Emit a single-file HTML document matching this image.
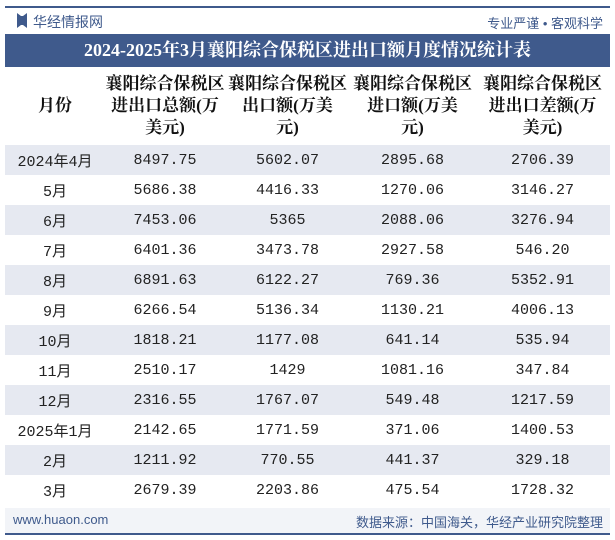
<!DOCTYPE html>
<html><head><meta charset="utf-8"><style>
body{margin:0;width:615px;height:540px;background:#fff;position:relative;overflow:hidden;font-family:"Liberation Sans","Noto Sans CJK SC",sans-serif}
.abs{position:absolute}
table{position:absolute;left:5px;top:67px;width:605px;border-collapse:collapse;table-layout:fixed}
th{font-family:"Liberation Serif","Noto Serif CJK SC",serif;font-weight:bold;font-size:17px;line-height:22px;height:78px;padding:0;color:#111;white-space:nowrap}
td{height:30px;padding:0;text-align:center;font-size:15px;color:#222;font-family:"Liberation Mono","Noto Sans CJK SC",monospace}
tr.s td{background:#e6e9f1}
</style></head><body>
<div class="abs" style="left:5px;top:6px;width:605px;height:2px;background:#3f5a8c"></div>
<div class="abs" style="left:17px;top:13px;width:10px;height:15px;background:#3f5a8c;clip-path:polygon(0 0,40% 20%,60% 20%,100% 0,100% 100%,60% 80%,40% 80%,0 100%)"></div>
<div class="abs" style="left:33px;top:12px;font-size:14px;color:#3f5a8c">华经情报网</div>
<div class="abs" style="right:12px;top:13px;font-size:13px;color:#3f5a8c">专业严谨 • 客观科学</div>
<div class="abs" style="left:5px;top:34px;width:605px;height:33px;background:#3f5a8c;color:#fff;text-align:center;font:bold 18px/33px 'Liberation Serif','Noto Serif CJK SC',serif">2024-2025年3月襄阳综合保税区进出口额月度情况统计表</div>
<table>
<colgroup><col style="width:100px"><col style="width:120px"><col style="width:125px"><col style="width:125px"><col style="width:135px"></colgroup>
<tr><th>月份</th><th>襄阳综合保税区<br>进出口总额(万<br>美元)</th><th>襄阳综合保税区<br>出口额(万美<br>元)</th><th>襄阳综合保税区<br>进口额(万美<br>元)</th><th>襄阳综合保税区<br>进出口差额(万<br>美元)</th></tr>
<tr class="s"><td>2024年4月</td><td>8497.75</td><td>5602.07</td><td>2895.68</td><td>2706.39</td></tr>
<tr><td>5月</td><td>5686.38</td><td>4416.33</td><td>1270.06</td><td>3146.27</td></tr>
<tr class="s"><td>6月</td><td>7453.06</td><td>5365</td><td>2088.06</td><td>3276.94</td></tr>
<tr><td>7月</td><td>6401.36</td><td>3473.78</td><td>2927.58</td><td>546.20</td></tr>
<tr class="s"><td>8月</td><td>6891.63</td><td>6122.27</td><td>769.36</td><td>5352.91</td></tr>
<tr><td>9月</td><td>6266.54</td><td>5136.34</td><td>1130.21</td><td>4006.13</td></tr>
<tr class="s"><td>10月</td><td>1818.21</td><td>1177.08</td><td>641.14</td><td>535.94</td></tr>
<tr><td>11月</td><td>2510.17</td><td>1429</td><td>1081.16</td><td>347.84</td></tr>
<tr class="s"><td>12月</td><td>2316.55</td><td>1767.07</td><td>549.48</td><td>1217.59</td></tr>
<tr><td>2025年1月</td><td>2142.65</td><td>1771.59</td><td>371.06</td><td>1400.53</td></tr>
<tr class="s"><td>2月</td><td>1211.92</td><td>770.55</td><td>441.37</td><td>329.18</td></tr>
<tr><td>3月</td><td>2679.39</td><td>2203.86</td><td>475.54</td><td>1728.32</td></tr>
</table>
<div class="abs" style="left:5px;top:508px;width:605px;height:25px;background:#f2f4f8"></div>
<div class="abs" style="left:13px;top:512px;font-size:13px;color:#3f5a8c">www.huaon.com</div>
<div class="abs" style="right:12px;top:512px;font-size:13px;color:#3f5a8c">数据来源：中国海关，华经产业研究院整理</div>
<div class="abs" style="left:5px;top:533px;width:605px;height:2px;background:#3f5a8c"></div>
</body></html>
